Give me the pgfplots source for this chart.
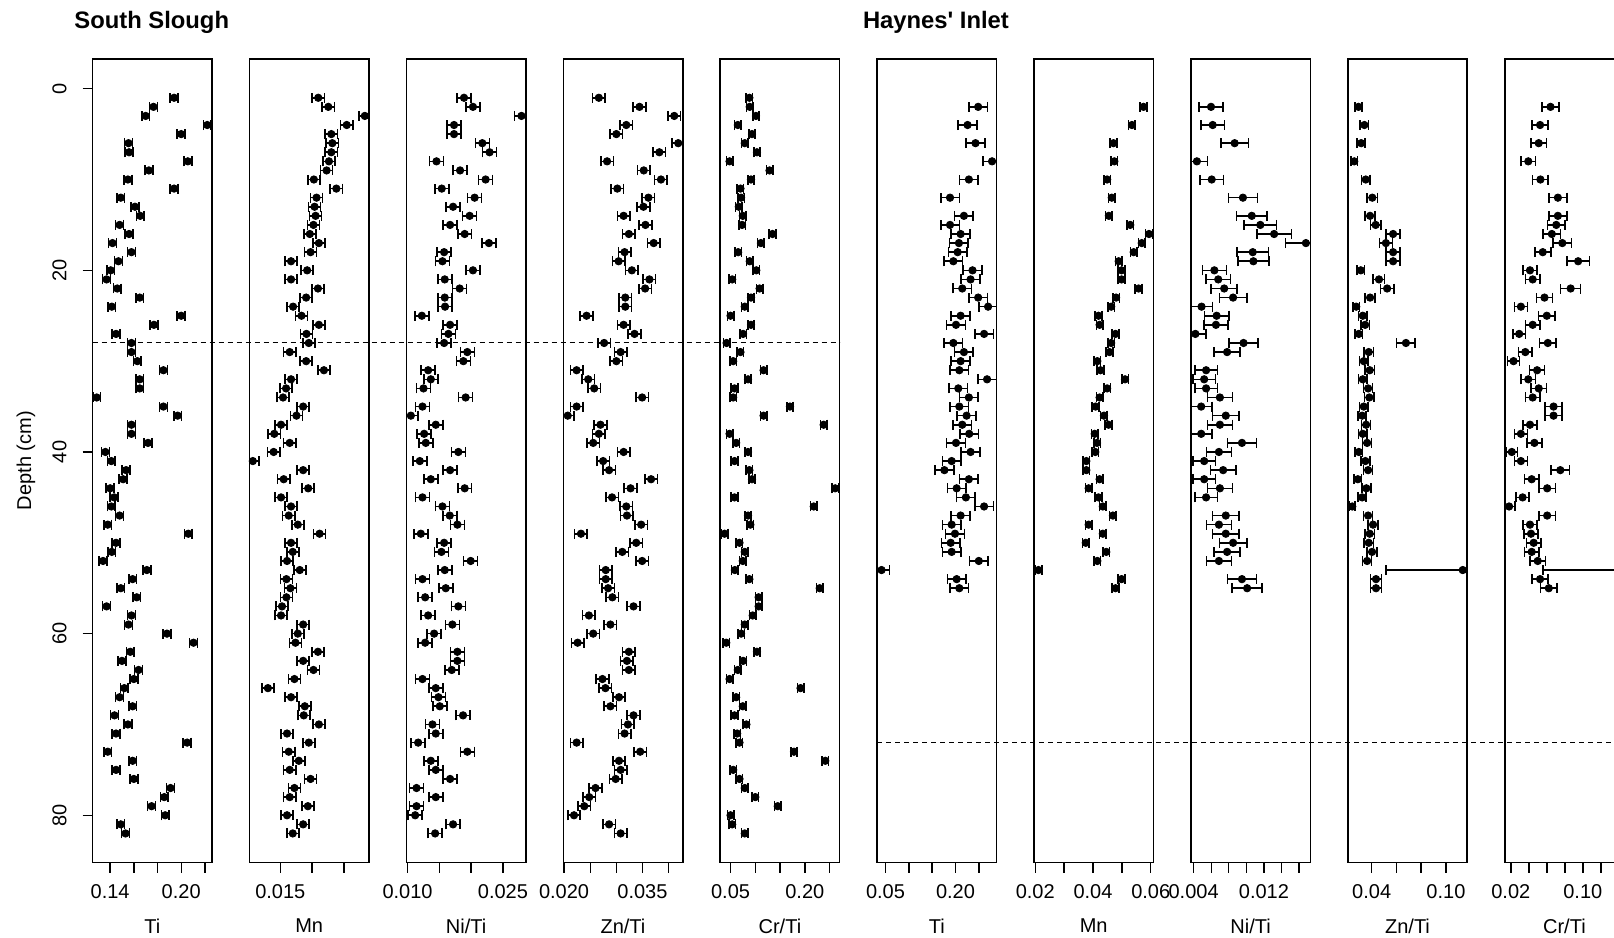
\documentclass[border=0pt]{standalone}
\usepackage{fontspec}
\setmainfont{Liberation Sans}
\usepackage{pgfplots}
\usepackage{pgfplotstable}
\pgfplotsset{compat=1.18}

% South Slough
\pgfplotstableread{
d v
1 0.194
2 0.1766
3 0.170
4 0.222
5 0.200
6 0.1555
7 0.156
8 0.2056
9 0.1727
10 0.155
11 0.194
12 0.149
13 0.161
14 0.1654
15 0.148
16 0.156
17 0.142
18 0.158
19 0.147
20 0.1405
21 0.137
22 0.146
23 0.165
24 0.1414
25 0.200
26 0.177
27 0.145
28 0.158
29 0.158
30 0.163
31 0.185
32 0.165
33 0.165
34 0.1287
35 0.185
36 0.197
37 0.158
38 0.158
39 0.172
40 0.136
41 0.141
42 0.1535
43 0.151
44 0.140
45 0.1434
46 0.141
47 0.148
48 0.138
49 0.206
50 0.145
51 0.1414
52 0.134
53 0.171
54 0.159
55 0.149
56 0.1625
57 0.137
58 0.158
59 0.1555
60 0.188
61 0.2104
62 0.157
63 0.150
64 0.164
65 0.160
66 0.152
67 0.148
68 0.159
69 0.1437
70 0.155
71 0.145
72 0.205
73 0.138
74 0.159
75 0.145
76 0.160
77 0.191
78 0.1857
79 0.175
80 0.1865
81 0.149
82 0.153
}\ssTi

\pgfplotstableread{
d v
1 0.02095
2 0.02253
3 0.02826
4 0.02542
5 0.0230
6 0.02316
7 0.0230
8 0.02263
9 0.02226
10 0.02026
11 0.02379
12 0.02068
13 0.02037
14 0.02053
15 0.0202
16 0.01963
17 0.02105
18 0.01974
19 0.01668
20 0.01921
21 0.01668
22 0.0209
23 0.01905
24 0.0170
25 0.01832
26 0.02105
27 0.0191
28 0.01947
29 0.01647
30 0.01905
31 0.02184
32 0.01668
33 0.0159
34 0.01542
35 0.01858
36 0.01753
37 0.01511
38 0.01405
39 0.01647
40 0.01395
41 0.01068
42 0.01858
43 0.01553
44 0.01937
45 0.01511
46 0.01668
47 0.01632
48 0.01774
49 0.02116
50 0.01668
51 0.01695
52 0.01605
53 0.01805
54 0.01595
55 0.01658
56 0.01595
57 0.01526
58 0.01511
59 0.01858
60 0.01774
61 0.01737
62 0.0209
63 0.01858
64 0.0202
65 0.01721
66 0.01305
67 0.01668
68 0.01884
69 0.01868
70 0.02105
71 0.01605
72 0.01947
73 0.01632
74 0.0179
75 0.01647
76 0.01974
77 0.01721
78 0.01647
79 0.01932
80 0.01605
81 0.01858
82 0.01695
}\ssMn

\pgfplotstableread{
d v
1 0.01888
2 0.02029
3 0.02792
4 0.01731
5 0.01731
6 0.02176
7 0.0229
8 0.01455
9 0.01826
10 0.02228
11 0.01538
12 0.02055
13 0.01716
14 0.01977
15 0.01669
16 0.01899
17 0.0228
18 0.01575
19 0.01549
20 0.02029
21 0.01585
22 0.0182
23 0.01585
24 0.0159
25 0.01225
26 0.01669
27 0.01643
28 0.01575
29 0.0194
30 0.01878
31 0.01324
32 0.01366
33 0.01251
34 0.01914
35 0.01235
36 0.01052
37 0.01444
38 0.01261
39 0.01287
40 0.01799
41 0.01193
42 0.01669
43 0.01366
44 0.01899
45 0.01235
46 0.01549
47 0.01664
48 0.01784
49 0.01209
50 0.01575
51 0.01533
52 0.01993
53 0.01585
54 0.01235
55 0.01601
56 0.01277
57 0.01799
58 0.01324
59 0.01705
60 0.01418
61 0.01277
62 0.01784
63 0.01784
64 0.01695
65 0.01235
66 0.01444
67 0.01486
68 0.01507
69 0.01873
70 0.01392
71 0.01444
72 0.01167
73 0.0194
74 0.01366
75 0.01444
76 0.01669
77 0.01141
78 0.01444
79 0.01141
80 0.0112
81 0.01716
82 0.01434
}\ssNi

\pgfplotstableread{
d v
1 0.02665
2 0.03443
3 0.04108
4 0.0319
5 0.0300
6 0.04184
7 0.03823
8 0.02823
9 0.03525
10 0.03854
11 0.03019
12 0.03614
13 0.03519
14 0.03139
15 0.03557
16 0.0324
17 0.03715
18 0.03158
19 0.03044
20 0.03297
21 0.03633
22 0.03551
23 0.03171
24 0.03171
25 0.0243
26 0.03139
27 0.03348
28 0.02766
29 0.03082
30 0.0300
31 0.0224
32 0.02462
33 0.02576
34 0.03494
35 0.0224
36 0.0207
37 0.02696
38 0.02665
39 0.02557
40 0.03139
41 0.02747
42 0.02861
43 0.03665
44 0.03272
45 0.02918
46 0.0319
47 0.03203
48 0.03475
49 0.02323
50 0.0338
51 0.03114
52 0.03494
53 0.02797
54 0.02797
55 0.02842
56 0.02924
57 0.03329
58 0.02475
59 0.02886
60 0.02557
61 0.02259
62 0.0324
63 0.03203
64 0.0324
65 0.02734
66 0.02791
67 0.03051
68 0.02886
69 0.03329
70 0.03222
71 0.03158
72 0.0224
73 0.03456
74 0.03051
75 0.03082
76 0.02987
77 0.02601
78 0.02481
79 0.02386
80 0.0219
81 0.02861
82 0.03082
}\ssZn

\pgfplotstableread{
d v
1 0.088
2 0.0887
3 0.1013
4 0.0647
5 0.0933
6 0.0787
7 0.1033
8 0.048
9 0.1287
10 0.0913
11 0.070
12 0.0713
13 0.0667
14 0.0747
15 0.0733
16 0.1347
17 0.1113
18 0.0653
19 0.0887
20 0.102
21 0.0533
22 0.1087
23 0.0913
24 0.0787
25 0.050
26 0.0913
27 0.0753
28 0.042
29 0.070
30 0.0553
31 0.1167
32 0.0853
33 0.058
34 0.0553
35 0.170
36 0.1167
37 0.238
38 0.048
39 0.0613
40 0.0853
41 0.058
42 0.088
43 0.0933
44 0.2613
45 0.058
46 0.218
47 0.0853
48 0.090
49 0.038
50 0.068
51 0.0787
52 0.0747
53 0.0587
54 0.088
55 0.230
56 0.1067
57 0.1067
58 0.0947
59 0.0787
60 0.0713
61 0.0413
62 0.1033
63 0.0753
64 0.0647
65 0.048
66 0.1913
67 0.0613
68 0.0747
69 0.058
70 0.082
71 0.0633
72 0.068
73 0.178
74 0.2413
75 0.0553
76 0.068
77 0.0787
78 0.100
79 0.1453
80 0.050
81 0.0533
82 0.0787
}\ssCr

% Haynes' Inlet
\pgfplotstableread{
d v
2 0.2486
4 0.2259
6 0.2429
8 0.2784
10 0.2287
12 0.1883
14 0.2181
15 0.1883
16 0.211
17 0.2074
18 0.2046
19 0.1954
20 0.2365
21 0.2323
22 0.2145
23 0.2486
24 0.2699
25 0.211
26 0.2011
27 0.2613
28 0.1954
29 0.2181
30 0.211
31 0.2082
32 0.2677
33 0.206
34 0.2287
35 0.2082
36 0.2238
37 0.2145
38 0.2294
39 0.2011
40 0.2323
41 0.1918
42 0.1762
43 0.2287
44 0.2025
45 0.2223
46 0.2613
47 0.211
48 0.1918
49 0.1989
50 0.1897
51 0.1918
52 0.250
54 0.2025
55 0.2082
}\hiTi

\pgfplotstableread{
d v
2 0.0575
4 0.0535
6 0.0471
8 0.0474
10 0.0449
12 0.0465
14 0.0455
15 0.0529
16 0.0594
17 0.0569
18 0.0541
19 0.0489
20 0.0499
21 0.0499
22 0.0558
23 0.048
24 0.0463
25 0.0419
26 0.0423
27 0.0478
28 0.0463
29 0.0457
30 0.0415
31 0.0426
32 0.0511
33 0.0449
34 0.0423
35 0.0409
36 0.0438
37 0.0454
38 0.0406
39 0.0414
40 0.0408
41 0.0377
42 0.0377
43 0.0423
44 0.0385
45 0.0419
46 0.0434
47 0.0469
48 0.0385
49 0.0434
50 0.0375
51 0.0446
52 0.0415
53 0.0211
54 0.0499
55 0.0478
}\hiMn

\pgfplotstableread{
d v e
2 0.00598 0.00134
4 0.00617 0.00136
6 0.00867 0.00158
8 0.00437 0.00119
10 0.00606 0.00135
12 0.00961 0.00166
14 0.01062 0.00176
15 0.01159 0.00184
16 0.01316 0.00198
17 0.01678 0.00231
18 0.01073 0.00177
19 0.0108 0.00177
20 0.00636 0.00137
21 0.0068 0.00141
22 0.00748 0.00147
23 0.00849 0.00156
24 0.0049 0.00124
25 0.00662 0.0014
26 0.00654 0.00139
27 0.0042 0.00118
28 0.00968 0.00167
29 0.00781 0.0015
31 0.00542 0.00129
32 0.0052 0.00127
33 0.00542 0.00129
34 0.00699 0.00143
35 0.00486 0.00124
36 0.00766 0.00149
37 0.00699 0.00143
38 0.00486 0.00124
39 0.0095 0.00166
40 0.00688 0.00142
41 0.0052 0.00127
42 0.00736 0.00146
43 0.0052 0.00127
44 0.00699 0.00143
45 0.00542 0.00129
47 0.00766 0.00149
48 0.00688 0.00142
49 0.00766 0.00149
50 0.00849 0.00156
51 0.00781 0.0015
52 0.00688 0.00142
54 0.0095 0.00166
55 0.01009 0.00171
}\hiNi

\pgfplotstableread{
d v e
2 0.0293 0.0029
4 0.0341 0.0034
6 0.0315 0.0032
8 0.0259 0.0026
10 0.0352 0.0035
12 0.0405 0.0041
14 0.0387 0.0039
15 0.0432 0.0043
16 0.0573 0.0057
17 0.0515 0.0052
18 0.0573 0.0057
19 0.0573 0.0057
20 0.0312 0.0031
21 0.0459 0.0046
22 0.0525 0.0053
23 0.0387 0.0039
24 0.0275 0.0028
25 0.0328 0.0033
26 0.0347 0.0035
27 0.0296 0.0030
28 0.0677 0.0075
29 0.0376 0.0038
30 0.0336 0.0034
31 0.0384 0.0038
32 0.0328 0.0033
33 0.0371 0.0037
34 0.0381 0.0038
35 0.0336 0.0034
36 0.0323 0.0032
37 0.0355 0.0036
38 0.0328 0.0033
39 0.0363 0.0036
40 0.0296 0.0030
41 0.0349 0.0035
42 0.0371 0.0037
43 0.0288 0.0029
44 0.0357 0.0036
45 0.0323 0.0032
46 0.0243 0.0024
47 0.0371 0.0037
48 0.0411 0.0041
49 0.0384 0.0038
50 0.0376 0.0038
51 0.0403 0.0040
52 0.0363 0.0036
53 0.1136 0.0621
54 0.0435 0.0044
55 0.0435 0.0044
}\hiZn

\pgfplotstableread{
d v e
2 0.0641 0.0095
4 0.0525 0.0087
6 0.0510 0.0086
8 0.0394 0.0078
10 0.0529 0.0087
12 0.0723 0.0101
14 0.0723 0.0101
15 0.0705 0.0099
16 0.0656 0.0096
17 0.0772 0.0104
18 0.0555 0.0089
19 0.0948 0.0125
20 0.0413 0.0079
21 0.0443 0.0081
22 0.0865 0.0111
23 0.0574 0.0090
24 0.0312 0.0072
25 0.0600 0.0092
26 0.0443 0.0081
27 0.0293 0.0071
28 0.0611 0.0093
29 0.0361 0.0075
30 0.0230 0.0066
31 0.0492 0.0084
32 0.0394 0.0078
33 0.0510 0.0086
34 0.0443 0.0081
35 0.0675 0.0097
36 0.0675 0.0097
37 0.0413 0.0079
38 0.0312 0.0072
39 0.0462 0.0082
40 0.0211 0.0065
41 0.0312 0.0072
42 0.0750 0.0103
43 0.0432 0.0080
44 0.0604 0.0092
45 0.0331 0.0073
46 0.0181 0.0063
47 0.0604 0.0092
48 0.0413 0.0079
49 0.0424 0.0080
50 0.0454 0.0082
51 0.0432 0.0080
52 0.0499 0.0085
53 0.1410 0.0855
54 0.0525 0.0087
55 0.0622 0.0094
}\hiCr

\pgfplotsset{
  panel/.style={
    scale only axis, width=59.7pt, height=401.9pt,
    anchor=north west,
    ymin=-3.3, ymax=85.2, y dir=reverse,
    axis line style={line width=0.8pt},
    tick align=outside, tick pos=left,
    major tick length=5pt,
    every tick/.style={black, line width=0.7pt},
    ytick=\empty, scaled x ticks=false,
    /pgf/number format/assume math mode=true,
    tick label style={font=\fontsize{10}{12}\selectfont},
    label style={font=\fontsize{10}{12}\selectfont},
    xticklabel style={anchor=center, yshift=-9.7pt},
    xlabel style={at={(axis description cs:0.5,-0.079)}, anchor=center},
  },
  dots/.style={only marks, mark=*, mark size=1.85pt, black,
    error bars/x dir=both,
    error bars/error mark=|,
    error bars/error bar style={line width=0.8pt, black},
    error bars/error mark options={mark size=2.5pt, line width=0.8pt, black}},
}

\begin{document}
\begin{tikzpicture}
\node[anchor=west, font=\bfseries\fontsize{11.9}{14}\selectfont, inner sep=0pt] at (37pt,-11.3pt) {South Slough};
\node[anchor=west, font=\bfseries\fontsize{11.9}{14}\selectfont, inner sep=0pt] at (431.3pt,-11.3pt) {Haynes\textquotesingle\ Inlet};

% 1 Ti SS
\begin{axis}[panel, name=p1, at={(46.3pt,-29.35pt)},
  xmin=0.1252, xmax=0.2260,
  xtick={0.14,0.16,0.18,0.20,0.22}, xticklabels={0.14,,,0.20,},
  ytick={0,20,40,60,80}, yticklabels={0,20,40,60,80},
  yticklabel style={anchor=center, xshift=-11.5pt, rotate=90},
  ylabel={Depth (cm)},
  ylabel style={at={(axis description cs:-0.559,0.5)}, anchor=center},
  xlabel={Ti}]
\addplot[dots, error bars/x fixed=0.0033] table[x=v,y=d] {\ssTi};
\coordinate (ss28) at (axis cs:0.15,28);
\end{axis}

% 2 Mn SS
\begin{axis}[panel, name=p2, at={(124.75pt,-29.35pt)},
  xmin=0.01016, xmax=0.0289,
  xtick={0.015,0.020,0.025}, xticklabels={0.015,,},
  xlabel={Mn}]
\addplot[dots, error bars/x fixed=0.00095] table[x=v,y=d] {\ssMn};
\end{axis}

% 3 Ni/Ti SS
\begin{axis}[panel, name=p3, at={(203.2pt,-29.35pt)},
  xmin=0.00982, xmax=0.0286,
  xtick={0.010,0.015,0.020,0.025}, xticklabels={0.010,,,0.025},
  xlabel={Ni/Ti}]
\addplot[dots, error bars/x fixed=0.0011] table[x=v,y=d] {\ssNi};
\end{axis}

% 4 Zn/Ti SS
\begin{axis}[panel, name=p4, at={(281.65pt,-29.35pt)},
  xmin=0.01985, xmax=0.0427,
  xtick={0.020,0.025,0.030,0.035,0.040}, xticklabels={0.020,,,0.035,},
  xlabel={Zn/Ti}]
\addplot[dots, error bars/x fixed=0.0012] table[x=v,y=d] {\ssZn};
\end{axis}

% 5 Cr/Ti SS
\begin{axis}[panel, name=p5, at={(360.1pt,-29.35pt)},
  xmin=0.0291, xmax=0.2702,
  xtick={0.05,0.10,0.15,0.20,0.25}, xticklabels={0.05,,,0.20,},
  xlabel={Cr/Ti}]
\addplot[dots, error bars/x fixed=0.0065] table[x=v,y=d] {\ssCr};
\end{axis}

% 6 Ti HI
\begin{axis}[panel, name=p6, at={(438.55pt,-29.35pt)},
  xmin=0.032, xmax=0.2879,
  xtick={0.05,0.10,0.15,0.20,0.25}, xticklabels={0.05,,,0.20,},
  xlabel={Ti}]
\addplot[dots, error bars/x fixed=0.02] table[x=v,y=d] {\hiTi};
\addplot[dots, error bars/x fixed=0.0167] coordinates {(0.0415,53)};
\coordinate (hi72) at (axis cs:0.1,72);
\end{axis}

% 7 Mn HI
\begin{axis}[panel, name=p7, at={(517.0pt,-29.35pt)},
  xmin=0.01957, xmax=0.06093,
  xtick={0.02,0.03,0.04,0.05,0.06}, xticklabels={0.02,,0.04,,0.06},
  xlabel={Mn}]
\addplot[dots, error bars/x fixed=0.00115] table[x=v,y=d] {\hiMn};
\end{axis}

% 8 Ni/Ti HI
\begin{axis}[panel, name=p8, at={(595.45pt,-29.35pt)},
  xmin=0.00369, xmax=0.01728,
  xtick={0.004,0.006,0.008,0.010,0.012,0.014,0.016}, xticklabels={0.004,,,,0.012,,},
  xlabel={Ni/Ti}]
\addplot[dots, error bars/x explicit] table[x=v,y=d,x error=e] {\hiNi};
\end{axis}

% 9 Zn/Ti HI
\begin{axis}[panel, name=p9, at={(673.9pt,-29.35pt)},
  xmin=0.0207, xmax=0.1172,
  xtick={0.04,0.06,0.08,0.10}, xticklabels={0.04,,,0.10},
  xlabel={Zn/Ti}]
\addplot[dots, error bars/x explicit] table[x=v,y=d,x error=e] {\hiZn};
\end{axis}

% 10 Cr/Ti HI
\begin{axis}[panel, name=p10, at={(752.35pt,-29.35pt)},
  xmin=0.0132, xmax=0.1459,
  xtick={0.02,0.04,0.06,0.08,0.10,0.12,0.14}, xticklabels={0.02,,,,0.10,,},
  xlabel={Cr/Ti}]
\addplot[dots, error bars/x explicit] table[x=v,y=d,x error=e] {\hiCr};
\end{axis}

\draw[dash pattern=on 2.5pt off 2pt, line width=0.5pt] (p1.north west |- ss28) -- (p5.north east |- ss28);
\draw[dash pattern=on 2.5pt off 2pt, line width=0.5pt] (p6.north west |- hi72) -- (812pt,0 |- hi72);

\pgfresetboundingbox
\useasboundingbox (0,0) rectangle (807pt,-469pt);
\end{tikzpicture}
\end{document}
